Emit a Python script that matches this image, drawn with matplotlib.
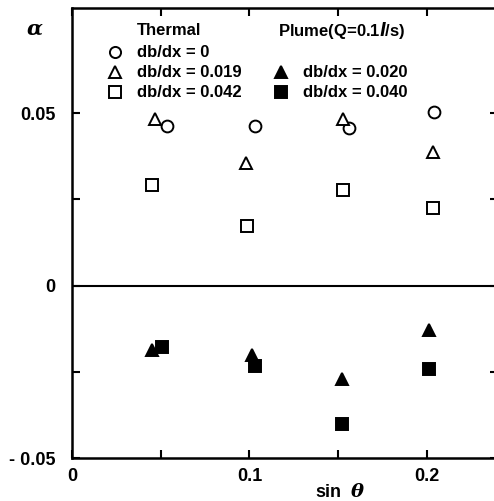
import numpy as np
import matplotlib.pyplot as plt

plt.rcParams['font.family'] = ['Liberation Sans', 'DejaVu Sans']
plt.rcParams['font.weight'] = 'bold'

# Thermal (open markers)
x_circ = [0.0537, 0.1034, 0.156, 0.204]
y_circ = [0.0464, 0.0464, 0.0458, 0.0504]
x_tri = [0.0469, 0.0983, 0.1525, 0.2034]
y_tri = [0.0484, 0.0357, 0.0484, 0.0388]
x_sq = [0.0452, 0.0989, 0.1525, 0.2034]
y_sq = [0.0293, 0.0174, 0.0278, 0.0226]

# Plume (filled markers)
x_ftri = [0.0452, 0.1017, 0.152, 0.2013]
y_ftri = [-0.0186, -0.0200, -0.0270, -0.0128]
x_fsq = [0.0508, 0.1029, 0.152, 0.2013]
y_fsq = [-0.0177, -0.0232, -0.0400, -0.0241]

x_ticks = [0, 0.05, 0.1, 0.15, 0.2]
x_ticklabels = ['0', '', '0.1', '', '0.2']
y_ticks = [-0.05, -0.025, 0, 0.025, 0.05]
y_ticklabels = ['- 0.05', '', '0', '', '0.05']

fig = plt.figure(figsize=(4.94, 5.01), dpi=100)
ax = fig.add_axes([0.1457, 0.0858, 0.862, 0.898])

mk = dict(linestyle='none', color='black', markeredgewidth=1.4)
ax.plot(x_circ, y_circ, marker='o', markersize=8.5, markerfacecolor='white', **mk)
ax.plot(x_tri, y_tri, marker='^', markersize=8.5, markerfacecolor='white', **mk)
ax.plot(x_sq, y_sq, marker='s', markersize=8, markerfacecolor='white', **mk)
ax.plot(x_ftri, y_ftri, marker='^', markersize=9, markerfacecolor='black', **mk)
ax.plot(x_fsq, y_fsq, marker='s', markersize=8, markerfacecolor='black', **mk)

ax.axhline(0, color='black', lw=1.5)

ax.set_xlim(0, 0.24)
ax.set_ylim(-0.05, 0.0805)
ax.set_xticks(x_ticks)
ax.set_xticklabels(x_ticklabels)
ax.set_yticks(y_ticks)
ax.set_yticklabels(y_ticklabels)
ax.tick_params(direction='in', length=6, width=1.5, top=True, right=True,
               labelsize=13)
ax.tick_params(axis='y', pad=12)
ax.tick_params(axis='x', pad=7)
for s in ax.spines.values():
    s.set_linewidth(1.8)

ax.text(-0.021, 0.0745, 'α', transform=ax.transData, fontsize=15,
        ha='center', va='center', family='DejaVu Serif', style='italic',
        fontweight='bold', clip_on=False)
ax.text(0.603, -0.077, 'sin', transform=ax.transAxes, fontsize=13,
        ha='center', va='center', fontweight='bold')
ax.text(0.67, -0.075, 'θ', transform=ax.transAxes, fontsize=14,
        ha='center', va='center', family='DejaVu Serif', style='italic',
        fontweight='bold')

# legend block
tr = ax.transAxes
def ax_frac(px, py):
    return (px - 72) / 425, (458 - py) / 450

lg = [
    (137, 30, 'Thermal', None, None),
    (278, 30, 'Plume(Q=0.1$\\it{l}$/s)', None, None),
    (137, 52, 'db/dx = 0', 'o', 'white'),
    (137, 72, 'db/dx = 0.019', '^', 'white'),
    (137, 92, 'db/dx = 0.042', 's', 'white'),
    (303, 72, 'db/dx = 0.020', '^', 'black'),
    (303, 92, 'db/dx = 0.040', 's', 'black'),
]
for px, py, txt, m, fc in lg:
    fx, fy = ax_frac(px, py)
    ax.text(fx, fy, txt, transform=tr, fontsize=12, ha='left', va='center')
    if m is not None:
        mx, _ = ax_frac(px - 22, py)
        ax.plot([mx], [fy], marker=m, markersize=8, markerfacecolor=fc,
                transform=tr, clip_on=False, **mk)

fig.savefig('out.png', dpi=100)
